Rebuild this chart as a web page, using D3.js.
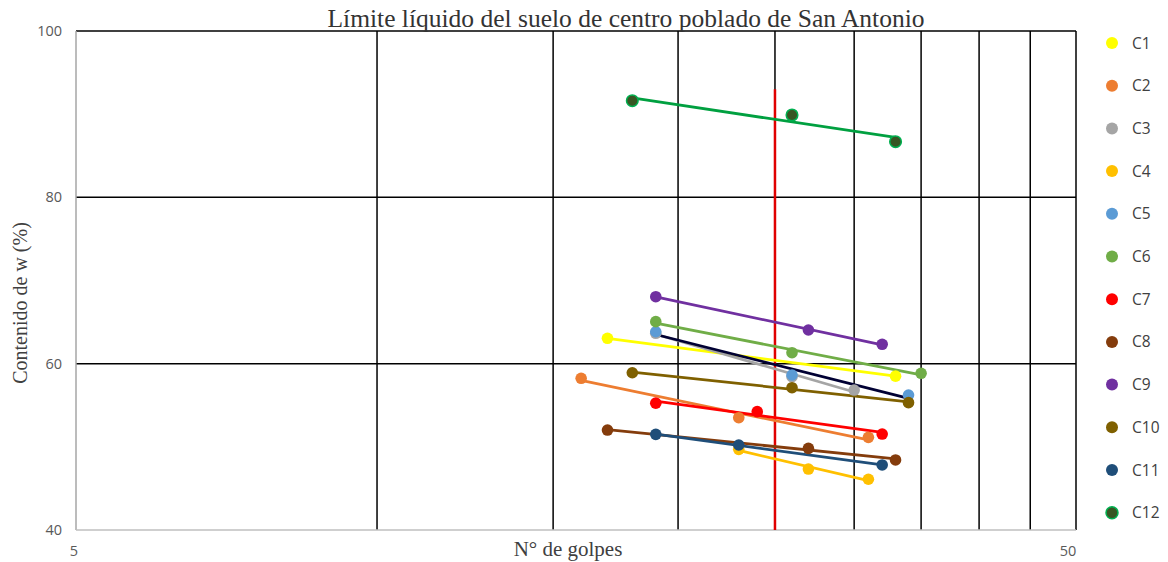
<!DOCTYPE html>
<html><head><meta charset="utf-8">
<script src="https://cdn.jsdelivr.net/npm/d3@7"></script>
<style>body{margin:0;background:#fff}svg{display:block}</style>
</head><body><svg id="c" width="1168" height="562"></svg>
<script>
const seriesNames = ["C1","C2","C3","C4","C5","C6","C7","C8","C9","C10","C11","C12"];
const golpes = [
  [17, 33],
  [16, 23, 31],
  [19, 26, 30],
  [23, 27, 31],
  [19, 26, 34],
  [19, 26, 35],
  [19, 24, 32],
  [17, 27, 33],
  [19, 27, 32],
  [18, 26, 34],
  [19, 23, 32],
  [18, 26, 33]
];
const humedad = [
  [63.05, 58.5],
  [58.24, 53.5, 51.14],
  [63.65, 58.43, 56.83],
  [49.7, 47.33, 46.1],
  [63.84, 58.64, 56.23],
  [65.05, 61.32, 58.84],
  [55.25, 54.23, 51.54],
  [52.02, 49.82, 48.42],
  [68.05, 64.05, 62.33],
  [58.91, 57.11, 55.31],
  [51.5, 50.22, 47.82],
  [91.62, 89.9, 86.69]
];
const markerColors = ["#FFFF00","#ED7D31","#A5A5A5","#FFC000","#5B9BD5","#70AD47","#FF0000","#843C0C","#7030A0","#7F6000","#1F4E79","#375623"];
const lineColors = ["#FFFF00","#ED7D31","#A5A5A5","#FFC000","#000033","#70AD47","#FF0000","#843C0C","#7030A0","#7F6000","#1F4E79","#00A040"];
const markerStroke = ["none","none","none","none","none","none","none","none","none","none","none","#00B050"];
const xTicks = [5, 50];
const xGrid = [10, 15, 20, 25, 30, 35, 40, 45, 50];
const yTicks = [40, 60, 80, 100];
const refX = 25, refYTop = 93;
const title = "Límite líquido del suelo de centro poblado de San Antonio";

const svg = d3.select("#c");
const L = 76, R = 1076, T = 31, B = 530;
const x = d3.scaleLog().domain([5, 50]).range([L, R]);
const y = d3.scaleLinear().domain([40, 100]).range([B, T]);

// grid
svg.append("g").selectAll("line").data(yTicks.filter(v => v > 40)).join("line")
  .attr("x1", L).attr("x2", R).attr("y1", d => y(d)).attr("y2", d => y(d))
  .attr("stroke", "#000").attr("stroke-width", 1.5);
svg.append("g").selectAll("line").data(xGrid).join("line")
  .attr("x1", d => x(d)).attr("x2", d => x(d)).attr("y1", T).attr("y2", B)
  .attr("stroke", "#000").attr("stroke-width", 1.5);
// axes lines
svg.append("line").attr("x1", L).attr("x2", L).attr("y1", T).attr("y2", B).attr("stroke", "#A6A6A6").attr("stroke-width", 1.5);
svg.append("line").attr("x1", L).attr("x2", R).attr("y1", B).attr("y2", B).attr("stroke", "#BFBFBF").attr("stroke-width", 1.5);

// tick labels
svg.append("g").selectAll("text").data(yTicks).join("text")
  .attr("x", 62).attr("y", d => y(d) + 5).attr("text-anchor", "end")
  .attr("font-family", "Open Sans, sans-serif").attr("font-size", 14.5).attr("fill", "#595959")
  .text(d => d);
svg.append("g").selectAll("text").data(xTicks).join("text")
  .attr("x", d => x(d) - (d === 50 ? 8 : 2)).attr("y", 556).attr("text-anchor", "middle")
  .attr("font-family", "Open Sans, sans-serif").attr("font-size", 14.5).attr("fill", "#595959")
  .text(d => d);

// reference line
svg.append("line").attr("x1", x(refX)).attr("x2", x(refX)).attr("y1", y(40)).attr("y2", y(refYTop))
  .attr("stroke", "#E00000").attr("stroke-width", 2.5);

// trendlines (least squares in log x)
function fit(xs, ys) {
  const lx = xs.map(v => Math.log10(v));
  const n = lx.length, mx = d3.mean(lx), my = d3.mean(ys);
  let sxy = 0, sxx = 0;
  for (let i = 0; i < n; i++) { sxy += (lx[i]-mx)*(ys[i]-my); sxx += (lx[i]-mx)**2; }
  const b = sxy / sxx, a = my - b * mx;
  return v => a + b * Math.log10(v);
}
const gS = svg.append("g");
seriesNames.forEach((name, i) => {
  const xs = golpes[i], ys = humedad[i];
  const f = fit(xs, ys);
  const x0 = d3.min(xs), x1 = d3.max(xs);
  gS.append("line").attr("x1", x(x0)).attr("y1", y(f(x0))).attr("x2", x(x1)).attr("y2", y(f(x1)))
    .attr("stroke", lineColors[i]).attr("stroke-width", 2.75);
});
seriesNames.forEach((name, i) => {
  gS.append("g").selectAll("circle").data(golpes[i].map((g, k) => [g, humedad[i][k]])).join("circle")
    .attr("cx", d => x(d[0])).attr("cy", d => y(d[1])).attr("r", 5.8)
    .attr("fill", markerColors[i]).attr("stroke", markerStroke[i]).attr("stroke-width", 1.5);
});

// legend
const lg = svg.append("g");
seriesNames.forEach((name, i) => {
  const cy = 43 + i * 42.7;
  lg.append("circle").attr("cx", 1112).attr("cy", cy).attr("r", 6)
    .attr("fill", markerColors[i]).attr("stroke", markerStroke[i]).attr("stroke-width", 1.5);
  lg.append("text").attr("x", 1132).attr("y", cy + 5.5).attr("font-family", "Open Sans, sans-serif")
    .attr("font-size", 15.5).attr("fill", "#404040").text(name);
});

// titles
svg.append("text").attr("x", 626).attr("y", 27).attr("text-anchor", "middle")
  .attr("font-family", "Liberation Serif, serif").attr("font-size", 25.5).attr("fill", "#333").text(title);
svg.append("text").attr("x", 568).attr("y", 556).attr("text-anchor", "middle")
  .attr("font-family", "Liberation Serif, serif").attr("font-size", 21).attr("fill", "#404040").text("N° de golpes");
svg.append("text").attr("transform", "translate(27,303) rotate(-90)").attr("text-anchor", "middle")
  .attr("font-family", "Liberation Serif, serif").attr("font-size", 20).attr("fill", "#404040").text("Contenido de w (%)");
</script></body></html>
